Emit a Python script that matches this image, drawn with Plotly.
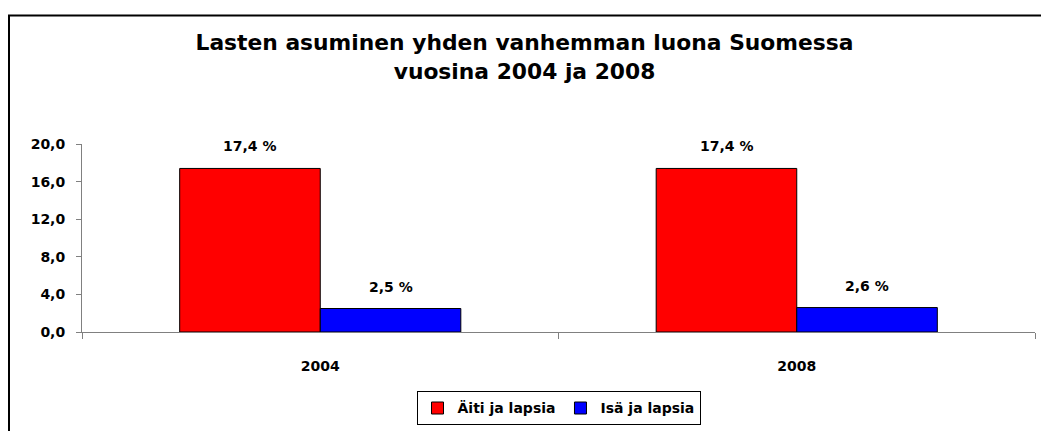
import plotly.graph_objects as go

# Data
years = ["2004", "2008"]
aiti = [17.4, 17.4]
isa = [2.5, 2.6]
series_names = ["Äiti ja lapsia", "Isä ja lapsia"]
series_colors = ["#FF0000", "#0000FF"]
title_lines = ["Lasten asuminen yhden vanhemman luona Suomessa", "vuosina 2004 ja 2008"]

BARGAP = 0.41
FONT = "DejaVu Sans"


def fmt(v):
    return f"{v:.1f}".replace(".", ",") + " %"


def run():
    fig = go.Figure()
    for name, vals, col in zip(series_names, [aiti, isa], series_colors):
        fig.add_trace(go.Bar(
            x=years, y=vals, name=name,
            marker=dict(color=col, line=dict(color="black", width=1)),
            hoverinfo="skip"))

    # value labels above the bars (offset by half of a bar slot)
    half = (1 - BARGAP) / 4
    for s, vals in enumerate([aiti, isa]):
        for i, v in enumerate(vals):
            fig.add_annotation(
                x=i + (-half if s == 0 else half), y=v, xref="x", yref="y",
                text=fmt(v), showarrow=False, yanchor="bottom", yshift=12,
                font=dict(family=FONT, size=14, color="black", weight="bold"))

    bold14 = dict(family=FONT, size=14, color="black", weight="bold")

    # the page body has an 8px margin, so keep the figure inside the window
    fig.update_layout(
        width=1033, height=423,
        margin=dict(l=74, r=6, t=136, b=94),
        paper_bgcolor="white", plot_bgcolor="white",
        separators=", ",
        barmode="group", bargap=BARGAP, bargroupgap=0,
        font=dict(family=FONT, size=14, color="black"),
        title=dict(
            text="<br>".join(title_lines),
            x=0.5, xanchor="center", y=0.9, yanchor="top",
            font=dict(family=FONT, size=21.8, color="black", weight="bold")),
        showlegend=True,
        legend=dict(
            orientation="h", x=0.5, xanchor="center", y=-0.316, yanchor="top",
            bordercolor="black", borderwidth=1, bgcolor="white",
            font=bold14, itemwidth=30, tracegroupgap=0),
        xaxis=dict(
            type="category", showline=True, linecolor="#808080", linewidth=1,
            ticks="outside", tickson="boundaries", ticklen=6, tickcolor="#808080",
            ticklabelstandoff=21, showgrid=False, tickfont=bold14),
        yaxis=dict(
            range=[0, 20], dtick=4, tickformat=".1f", showline=True,
            linecolor="#808080", linewidth=1, ticks="outside", ticklen=5,
            tickcolor="#808080", showgrid=False, zeroline=False, ticklabelstandoff=8,
            tickfont=bold14),
    )

    # outer chart frame (runs off the right and bottom edges as in the source)
    fig.add_shape(type="rect", xref="paper", yref="paper",
                  x0=-0.0766, x1=1.03, y0=-0.6, y1=1.684,
                  line=dict(color="black", width=2), layer="below")

    fig.write_html("out.html")


if __name__ == "__main__":
    run()
